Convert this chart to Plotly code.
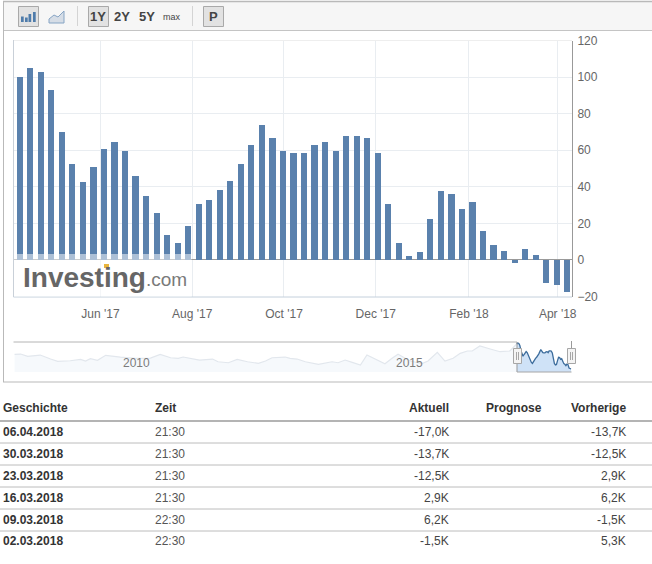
import pandas as pd
import plotly.graph_objects as go

W, H = 652, 564

# --- Chart data ---
bar_values = [100.5, 105, 103, 93, 70.5, 53, 43, 51, 60.7, 65, 60, 46,
              35, 25.7, 13.7, 9.3, 19, 30.6, 33.3, 38.3, 43.7,
              53, 63.4, 74.3, 67.2, 59.6, 58.5, 58.5, 63.4, 64.5,
              59.6, 68.3, 68.3, 67.2, 58.5, 31, 9.3, 2.2, 4.4, 22.4, 37.7, 36.6,
              28.4, 31.7, 15.9, 8.2, 5, -1.5, 6.2, 2.9, -12.5, -13.7, -17]
first_bar_date = "2017-04-08 00:00"
tick_dates = ["2017-06-01", "2017-08-01", "2017-10-01", "2017-12-01", "2018-02-01", "2018-04-01"]
tick_labels = ["Jun '17", "Aug '17", "Oct '17", "Dec '17", "Feb '18", "Apr '18"]
y_ticks = [-20, 0, 20, 40, 60, 80, 100, 120]

# --- Navigator history ---
history_years = [2008.06, 2008.17, 2008.30, 2008.53, 2008.72, 2008.85, 2009.08, 2009.27, 2009.36, 2009.45,
                 2009.58, 2009.73, 2010.00, 2010.27, 2010.55, 2010.73, 2010.92, 2011.06, 2011.15, 2011.32,
                 2011.45, 2011.69, 2011.79, 2011.98, 2012.14, 2012.33, 2012.53, 2012.66, 2012.78, 2013.02,
                 2013.11, 2013.24, 2013.39, 2013.63, 2013.75, 2013.88, 2013.99, 2014.12, 2014.25, 2014.40,
                 2014.52, 2014.67, 2014.85, 2014.98, 2015.09, 2015.31, 2015.53, 2015.64, 2015.81, 2015.95,
                 2016.10, 2016.23, 2016.36, 2016.45, 2016.59, 2016.78, 2016.96, 2017.14]
history_values = [51.9, 53.3, 42.5, 48.6, 29.8, 19, 21.8, 28.4, 20.4, 31.2,
                  23.7, 47.2, 39.2, 33.1, 34.5, 51.9, 35.9, 33.1, 39.2, 33.1,
                  25.1, 29.8, 17.1, 12.4, 28.4, 17.1, 9.6, 20.4, 35.9, 39.2,
                  33.1, 29.8, 17.1, 4.9, 12.4, 17.1, 12.4, 25.1, 14.3, 1.6,
                  48.6, 29.8, 7.7, 33.1, 51.9, 20.4, 8.6, 20.4, 61.3, 20.4,
                  33.1, 56.6, 67.4, 67.4, 90.9, 76.8, 64.1, 67.4]
nav_floor = -31
nav_ceiling = 109.7

# --- Table ---
table_headers = ["Geschichte", "Zeit", "Aktuell", "Prognose", "Vorherige"]
table_dates = ["06.04.2018", "30.03.2018", "23.03.2018", "16.03.2018", "09.03.2018", "02.03.2018"]
table_times = ["21:30", "21:30", "21:30", "21:30", "22:30", "22:30"]
table_actual = ["-17,0K", "-13,7K", "-12,5K", "2,9K", "6,2K", "-1,5K"]
table_previous = ["-13,7K", "-12,5K", "2,9K", "6,2K", "-1,5K", "5,3K"]
toolbar_labels = ["1Y", "2Y", "5Y", "max", "P"]

FONT = "Liberation Sans, Arial, sans-serif"
BAR = "#5a81ad"
TXT = "#333333"


def px(x):
    return x / W


def py(y):
    return 1 - y / H


shapes = []
annotations = []


def rect(x0, y0, x1, y1, fill=None, line=None, lw=1, layer="above"):
    shapes.append(dict(type="rect", xref="paper", yref="paper",
                       x0=px(x0), x1=px(x1), y0=py(y0), y1=py(y1),
                       fillcolor=fill or "rgba(0,0,0,0)",
                       line=dict(color=line or "rgba(0,0,0,0)", width=lw if line else 0),
                       layer=layer))


def hline(x0, x1, y, color="#b4b4b4", lw=1, layer="above"):
    shapes.append(dict(type="line", xref="paper", yref="paper", x0=px(x0), x1=px(x1),
                       y0=py(y), y1=py(y), line=dict(color=color, width=lw), layer=layer))


def vline(x, y0, y1, color="#b4b4b4", lw=1, layer="above"):
    shapes.append(dict(type="line", xref="paper", yref="paper", x0=px(x), x1=px(x),
                       y0=py(y0), y1=py(y1), line=dict(color=color, width=lw), layer=layer))


def text(x, y, s, size=12, color=TXT, anchor="left", bold=False, family=FONT):
    annotations.append(dict(xref="paper", yref="paper", x=px(x), y=py(y), text=f"<b>{s}</b>" if bold else s,
                            showarrow=False, xanchor=anchor, yanchor="middle",
                            font=dict(size=size, color=color, family=family), borderpad=0, borderwidth=0))


fig = go.Figure()
dates = pd.date_range(first_bar_date, periods=len(bar_values), freq="7D")
fig.add_trace(go.Bar(x=dates, y=bar_values, marker=dict(color=BAR, line=dict(width=0)),
                     width=4.1 * 86400000, xaxis="x", yaxis="y", showlegend=False))

# Navigator
selected_years = [d.year + (d.dayofyear - 1) / 365.0 for d in dates]
fig.add_trace(go.Scatter(x=history_years + selected_years[:1], y=[nav_floor] * (len(history_years) + 1),
                         mode="lines", line=dict(width=0), xaxis="x2", yaxis="y2", showlegend=False))
fig.add_trace(go.Scatter(x=history_years + selected_years[:1], y=history_values + bar_values[:1],
                         mode="lines", line=dict(color="#e2e7ed", width=1.2), fill="tonexty",
                         fillcolor="#f6f9fc", xaxis="x2", yaxis="y2", showlegend=False))
fig.add_trace(go.Scatter(x=selected_years, y=[nav_floor] * len(selected_years),
                         mode="lines", line=dict(width=0), xaxis="x2", yaxis="y2", showlegend=False))
fig.add_trace(go.Scatter(x=selected_years, y=bar_values,
                         mode="lines", line=dict(color="#3c6c9c", width=1.3), fill="tonexty",
                         fillcolor="#cfe2f7", xaxis="x2", yaxis="y2", showlegend=False))

# Outer frame and toolbar
rect(3.5, 1.5, 653, 30, fill="#f6f6f6", layer="below")
hline(3, 652, 1.5, "#b9b9b9", 1.5)
hline(3, 652, 30.5, "#c4c4c4", 1)
vline(3.5, 1, 382, "#b9b9b9", 1)
hline(3, 652, 382, "#b9b9b9", 1)

# Toolbar buttons
for x0 in (18.5, 88.5, 203.5):
    rect(x0, 6.5, x0 + 20, 26.5, fill="#e2e2e2", line="#a9a9a9", lw=1)
for x in (77.5, 192.5):
    vline(x, 6, 26, "#d4d4d4", 1)
for x0, top in ((21, 16.5), (25, 17.5), (28.5, 14), (33, 12)):
    rect(x0, top, x0 + 2.7, 22, fill="#4f7cab")
shapes.append(dict(type="path", xref="paper", yref="paper", layer="above",
                   path=f"M{px(49)},{py(23)} L{px(49)},{py(19)} L{px(54)},{py(15)} L{px(58)},{py(17)} "
                        f"L{px(64)},{py(11)} L{px(64)},{py(23)} Z",
                   fillcolor="#d6dde6", line=dict(color="#86a4c4", width=1)))
for x, s, size in zip((98, 122, 147, 171.5, 213), toolbar_labels, (13, 13, 13, 9, 13)):
    text(x, 16.5, s, size=size, color="#444444", anchor="center", bold=size > 9)

# Plot frame
vline(13.5, 40, 297, "#c9d0d8", 1)
hline(13.5, 572, 297, "#c4d0dc", 1)
hline(13.5, 572, 40.5, "#eeeeee", 1, layer="below")

# Watermark
rect(14, 254, 191.5, 296.5, fill="rgba(255,255,255,0.5)")
text(23, 277, "Investing", size=28, color="#666666", bold=True)
text(146, 279, ".com", size=19, color="#7a7a7a")
rect(104, 264, 109, 268, fill="#e8b43c")

# Navigator frame
hline(13.5, 517, 342, "#b4b4b4", 1)
vline(517, 342, 372, "#9a9a9a", 1)
hline(517, 571.5, 372, "#a6a6a6", 1)
vline(571.5, 341, 349, "#9a9a9a", 1)
for x0 in (513.5, 567.5):
    rect(x0, 348.5, x0 + 8, 363.5, fill="#f4f4f4", line="#a6a6a6", lw=1)
    vline(x0 + 3, 352, 360, "#a6a6a6", 1)
    vline(x0 + 5, 352, 360, "#a6a6a6", 1)
for x, s in zip((136, 409), ("2010", "2015")):
    text(x, 362.5, s, size=12, color="#7c7c7c", anchor="center")

# Table
header_x = (3, 155, 449, 541.5, 625.5)
header_anchor = ("left", "left", "right", "right", "right")
for s, x, a in zip(table_headers, header_x, header_anchor):
    text(x, 408, s, size=12, color=TXT, anchor=a, bold=True)
hline(0, 652, 421, "#b4b4b4", 2)
for i in range(len(table_dates)):
    yc = 432 + 22 * i - (1 if i == 5 else 0)
    text(3, yc, table_dates[i], bold=True)
    text(155, yc, table_times[i], color="#555555")
    text(449, yc, table_actual[i], color="#444444", anchor="right")
    text(625.5, yc, table_previous[i], color="#444444", anchor="right")
    if i < 5:
        hline(0, 652, 443 + 22 * i, "#bcbcbc", 1)

fig.update_layout(
    width=W, height=H, autosize=False,
    margin=dict(l=0, r=0, t=0, b=0, pad=0, autoexpand=False),
    paper_bgcolor="white", plot_bgcolor="white",
    font=dict(family=FONT, size=12, color="#666666"),
    bargap=0, showlegend=False,
    shapes=shapes, annotations=annotations,
    xaxis=dict(domain=[px(13.5), px(572)], range=["2017-04-04 04:00", "2018-04-10 12:00"],
               type="date", tickmode="array", tickvals=tick_dates, ticktext=tick_labels,
               showgrid=True, gridcolor="#e9edf1", gridwidth=1, zeroline=False, showline=False,
               ticks="outside", ticklen=6, tickcolor="rgba(0,0,0,0)", anchor="y",
               tickfont=dict(size=12, color="#666666", family=FONT)),
    yaxis=dict(domain=[py(296.5), py(40.5)], range=[-20, 120], side="right", anchor="x",
               tickmode="array", tickvals=y_ticks,
               showgrid=True, gridcolor="#e9edf1", gridwidth=1,
               zeroline=True, zerolinecolor="#999999", zerolinewidth=1,
               showline=True, linecolor="#999999", linewidth=1,
               ticks="outside", ticklen=2, tickcolor="rgba(0,0,0,0)",
               tickfont=dict(size=12, color="#666666", family=FONT)),
    xaxis2=dict(domain=[px(13.5), px(571.5)], range=[2008.04, 2018.27], visible=False, anchor="y2"),
    yaxis2=dict(domain=[py(372), py(342)], range=[nav_floor, nav_ceiling], visible=False, anchor="x2"),
)

fig.write_html("out.html", config=dict(displayModeBar=False),
               post_script="document.body.style.margin='0';")
